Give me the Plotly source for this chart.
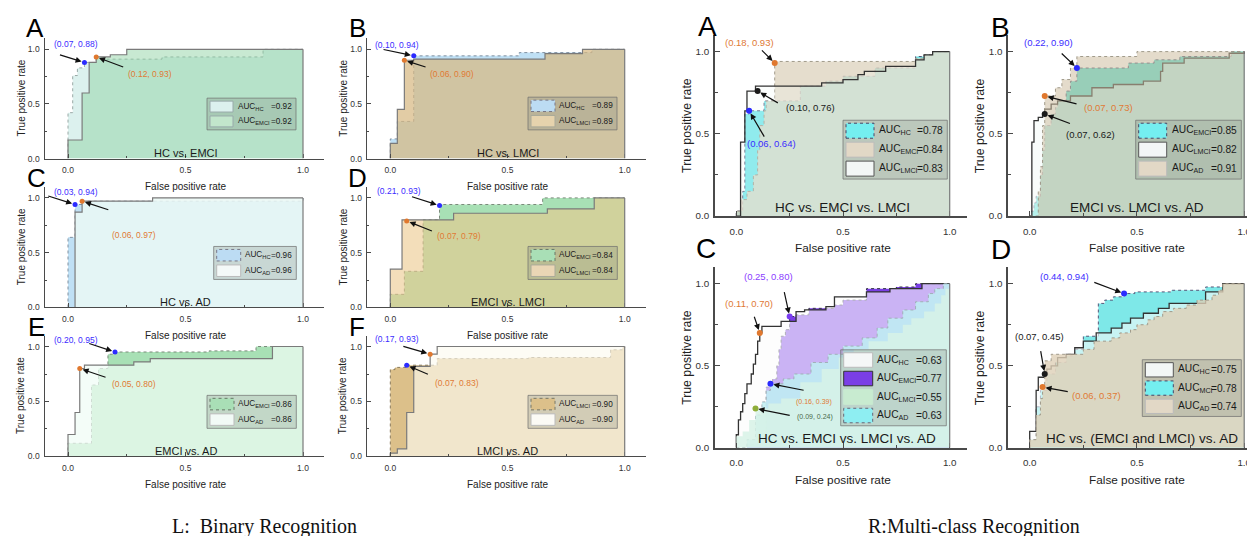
import plotly.graph_objects as go

W, H = 1255, 536
FONT = "Liberation Sans, Arial, sans-serif"

# ======================= DATA =======================
# ---- Left: binary recognition ----
LA_CLASSES = ["HC", "EMCI"]
LA_AUC = [0.92, 0.92]
LA_HC_FPR = [0, 0, 0.02, 0.04, 0.07, 0.12, 0.40, 0.83, 1.0]
LA_HC_TPR = [0, 0.42, 0.76, 0.83, 0.88, 0.91, 0.93, 1.0, 1.0]
LA_EMCI_FPR = [0, 0, 0.06, 0.09, 0.12, 0.18, 0.25, 1.0]
LA_EMCI_TPR = [0, 0.17, 0.60, 0.88, 0.93, 0.95, 1.0, 1.0]
LA_PTS_X = [0.07, 0.12]
LA_PTS_Y = [0.88, 0.93]

LB_CLASSES = ["HC", "LMCI"]
LB_AUC = [0.89, 0.89]
LB_HC_FPR = [0, 0, 0.03, 0.10, 0.55, 0.86, 1.0]
LB_HC_TPR = [0, 0.18, 0.34, 0.94, 0.97, 1.0, 1.0]
LB_LMCI_FPR = [0, 0, 0.03, 0.06, 0.10, 0.66, 0.82, 1.0]
LB_LMCI_TPR = [0, 0.14, 0.45, 0.90, 0.91, 0.96, 1.0, 1.0]
LB_PTS_X = [0.10, 0.06]
LB_PTS_Y = [0.94, 0.90]

LC_CLASSES = ["HC", "AD"]
LC_AUC = [0.96, 0.96]
LC_HC_FPR = [0, 0, 0.03, 0.06, 1.0]
LC_HC_TPR = [0, 0.64, 0.94, 0.97, 1.0]
LC_AD_FPR = [0, 0.03, 0.06, 0.36, 1.0]
LC_AD_TPR = [0, 0.87, 0.97, 1.0, 1.0]
LC_PTS_X = [0.03, 0.06]
LC_PTS_Y = [0.94, 0.97]

LD_CLASSES = ["EMCI", "LMCI"]
LD_AUC = [0.84, 0.84]
LD_EMCI_FPR = [0, 0, 0.06, 0.14, 0.21, 0.65, 1.0]
LD_EMCI_TPR = [0, 0.12, 0.33, 0.80, 0.94, 1.0, 1.0]
LD_LMCI_FPR = [0, 0, 0.05, 0.27, 0.67, 0.87, 1.0]
LD_LMCI_TPR = [0, 0.35, 0.80, 0.86, 0.90, 1.0, 1.0]
LD_PTS_X = [0.21, 0.07]
LD_PTS_Y = [0.93, 0.79]

LE_CLASSES = ["EMCI", "AD"]
LE_AUC = [0.86, 0.86]
LE_EMCI_FPR = [0, 0, 0.10, 0.13, 0.17, 0.20, 0.60, 0.80, 1.0]
LE_EMCI_TPR = [0, 0.12, 0.65, 0.80, 0.93, 0.95, 0.96, 1.0, 1.0]
LE_AD_FPR = [0, 0, 0.03, 0.05, 0.07, 0.28, 0.35, 0.87, 1.0]
LE_AD_TPR = [0, 0.20, 0.40, 0.80, 0.83, 0.86, 0.89, 1.0, 1.0]
LE_PTS_X = [0.20, 0.05]
LE_PTS_Y = [0.95, 0.80]

LF_CLASSES = ["LMCI", "AD"]
LF_AUC = [0.90, 0.90]
LF_LMCI_FPR = [0, 0, 0.02, 0.07, 0.20, 0.59, 0.94, 0.99, 1.0]
LF_LMCI_TPR = [0, 0.79, 0.81, 0.83, 0.89, 0.90, 0.97, 0.99, 1.0]
LF_AD_FPR = [0, 0, 0.03, 0.07, 0.10, 0.17, 0.20, 1.0]
LF_AD_TPR = [0, 0.03, 0.07, 0.40, 0.82, 0.93, 1.0, 1.0]
LF_PTS_X = [0.17, 0.07]
LF_PTS_Y = [0.93, 0.83]

# ---- Right: multi-class recognition ----
RA_CLASSES = ["HC", "EMCI", "LMCI"]
RA_AUC = [0.78, 0.84, 0.83]
RA_HC_FPR = [0, 0, 0.03, 0.04, 0.06, 0.13, 0.30, 0.42, 0.50, 0.65, 0.84, 0.88, 0.92, 1.0]
RA_HC_TPR = [0, 0.03, 0.15, 0.62, 0.64, 0.70, 0.79, 0.82, 0.85, 0.90, 0.97, 0.98, 1.0, 1.0]
RA_EMCI_FPR = [0, 0, 0.02, 0.05, 0.08, 0.10, 0.11, 0.13, 0.14, 0.18, 0.84, 0.88, 0.92, 1.0]
RA_EMCI_TPR = [0, 0.03, 0.10, 0.15, 0.25, 0.40, 0.55, 0.64, 0.70, 0.94, 0.96, 0.98, 1.0, 1.0]
RA_LMCI_FPR = [0, 0.02, 0.02, 0.04, 0.05, 0.09, 0.40, 0.50, 0.57, 0.60, 0.70, 0.84, 0.88, 0.92, 1.0]
RA_LMCI_TPR = [0, 0.15, 0.45, 0.64, 0.76, 0.79, 0.81, 0.83, 0.86, 0.88, 0.91, 0.95, 0.98, 1.0, 1.0]
RA_PTS_X = [0.18, 0.10, 0.06]
RA_PTS_Y = [0.93, 0.76, 0.64]

RB_CLASSES = ["EMCI", "LMCI", "AD"]
RB_AUC = [0.85, 0.82, 0.91]
RB_EMCI_FPR = [0, 0.01, 0.02, 0.03, 0.05, 0.06, 0.07, 0.10, 0.12, 0.13, 0.17, 0.19, 0.22, 0.46, 0.58, 0.70, 0.94, 1.0]
RB_EMCI_TPR = [0, 0.03, 0.08, 0.12, 0.25, 0.40, 0.55, 0.62, 0.66, 0.70, 0.76, 0.82, 0.90, 0.93, 0.95, 0.97, 1.0, 1.0]
RB_LMCI_FPR = [0, 0.01, 0.02, 0.04, 0.06, 0.07, 0.10, 0.13, 0.19, 0.29, 0.39, 0.53, 0.61, 0.62, 0.72, 0.93, 1.0]
RB_LMCI_TPR = [0, 0.45, 0.58, 0.60, 0.62, 0.65, 0.68, 0.70, 0.73, 0.78, 0.80, 0.82, 0.88, 0.93, 0.96, 0.99, 1.0]
RB_AD_FPR = [0, 0.04, 0.05, 0.06, 0.07, 0.12, 0.15, 0.19, 0.22, 0.50, 1.0]
RB_AD_TPR = [0, 0.15, 0.30, 0.55, 0.73, 0.78, 0.83, 0.90, 0.97, 1.0, 1.0]
RB_PTS_X = [0.22, 0.07, 0.07]
RB_PTS_Y = [0.90, 0.73, 0.62]

RC_CLASSES = ["HC", "EMCI", "LMCI", "AD"]
RC_AUC = [0.63, 0.77, 0.55, 0.63]
RC_HC_FPR = [0, 0, 0.01, 0.02, 0.03, 0.04, 0.05, 0.07, 0.08, 0.09, 0.10, 0.11, 0.12, 0.21, 0.28, 0.32, 0.42, 0.46, 0.61, 0.72, 0.87, 1.0]
RC_HC_TPR = [0, 0.08, 0.17, 0.22, 0.27, 0.33, 0.39, 0.45, 0.51, 0.57, 0.65, 0.70, 0.74, 0.77, 0.83, 0.84, 0.86, 0.92, 0.95, 0.97, 1.0, 1.0]
RC_EMCI_FPR = [0, 0.05, 0.10, 0.14, 0.14, 0.17, 0.19, 0.20, 0.21, 0.23, 0.25, 0.28, 0.34, 0.46, 0.50, 0.61, 0.75, 0.84, 1.0]
RC_EMCI_TPR = [0, 0.02, 0.08, 0.18, 0.37, 0.42, 0.50, 0.60, 0.68, 0.72, 0.80, 0.81, 0.85, 0.87, 0.90, 0.97, 0.98, 1.0, 1.0]
RC_LMCI_FPR = [0, 0, 0.03, 0.06, 0.09, 0.15, 0.21, 0.30, 0.40, 0.48, 0.55, 0.62, 0.71, 0.78, 0.82, 0.88, 0.93, 0.96, 0.98, 1.0]
RC_LMCI_TPR = [0, 0.07, 0.10, 0.17, 0.24, 0.27, 0.30, 0.40, 0.48, 0.55, 0.60, 0.65, 0.70, 0.75, 0.79, 0.83, 0.88, 0.93, 0.97, 1.0]
RC_AD_FPR = [0, 0.05, 0.09, 0.12, 0.14, 0.16, 0.22, 0.27, 0.35, 0.43, 0.50, 0.59, 0.66, 0.71, 0.78, 0.84, 0.90, 0.93, 0.97, 1.0]
RC_AD_TPR = [0, 0.05, 0.20, 0.28, 0.35, 0.39, 0.42, 0.45, 0.52, 0.57, 0.62, 0.67, 0.73, 0.79, 0.84, 0.89, 0.94, 0.97, 1.0, 1.0]
RC_PTS_X = [0.11, 0.25, 0.16, 0.09]
RC_PTS_Y = [0.70, 0.80, 0.39, 0.24]

RD_CLASSES = ["HC", "MCI", "AD"]
RD_AUC = [0.75, 0.78, 0.74]
RD_HC_FPR = [0, 0, 0.03, 0.04, 0.07, 0.08, 0.10, 0.13, 0.17, 0.21, 0.25, 0.31, 0.38, 0.43, 0.47, 0.53, 0.60, 0.65, 0.82, 0.90, 1.0]
RD_HC_TPR = [0, 0.10, 0.35, 0.43, 0.45, 0.48, 0.50, 0.55, 0.57, 0.61, 0.65, 0.70, 0.73, 0.76, 0.79, 0.82, 0.85, 0.88, 0.95, 1.0, 1.0]
RD_MCI_FPR = [0, 0, 0.03, 0.05, 0.08, 0.12, 0.17, 0.21, 0.25, 0.32, 0.35, 0.39, 0.44, 0.49, 0.66, 0.82, 0.90, 1.0]
RD_MCI_TPR = [0, 0.05, 0.25, 0.35, 0.45, 0.52, 0.56, 0.60, 0.68, 0.88, 0.90, 0.92, 0.94, 0.95, 0.96, 0.98, 1.0, 1.0]
RD_AD_FPR = [0, 0, 0.03, 0.05, 0.06, 0.07, 0.10, 0.25, 0.30, 0.38, 0.42, 0.47, 0.50, 0.55, 0.58, 0.62, 0.67, 0.73, 0.78, 0.85, 0.88, 0.90, 1.0]
RD_AD_TPR = [0, 0.05, 0.20, 0.30, 0.37, 0.53, 0.57, 0.60, 0.65, 0.67, 0.70, 0.72, 0.75, 0.78, 0.80, 0.83, 0.85, 0.87, 0.90, 0.93, 0.96, 1.0, 1.0]
RD_PTS_X = [0.44, 0.07, 0.06]
RD_PTS_Y = [0.94, 0.45, 0.37]

AXIS_TICKS = [0.0, 0.5, 1.0]
X_TITLE = "False positive rate"
Y_TITLE = "True positive rate"
CAPTIONS = ["L:\u00a0 Binary Recognition", "R:Multi-class Recognition"]

# ======================= STYLE =======================
BLUE_M, BLUE_T = "#2b2bff", "#3b2cff"
ORANGE_M, ORANGE_T = "#e0782e", "#e07a35"
BLACK = "#1a1a1a"
PURPLE_M, PURPLE_T = "#7a3cf0", "#8b3dff"
GREEN_M, GREEN_T = "#8fae3a", "#4a6a4a"

panels = [
    dict(x0=60, sx=235, y0=152, sy=110.3, xmax=1.09, side="L", letter="A", lxy=(27, 20),
         title="HC vs. EMCI",
         curves=[(LA_HC_FPR, LA_HC_TPR, "#dcf1ee", "#9aa9a6", "dot", 1.0),
                 (LA_EMCI_FPR, LA_EMCI_TPR, "rgba(140,210,160,0.48)", "#7a7a7a", "solid", 1.2)],
         classes=LA_CLASSES, auc=LA_AUC,
         leg=dict(box=(199, 91, 288, 123), tx=29, sw=23,
                  sty=[("#dcf1ee", "#9aa", "solid"), ("#c2e6cc", "#9aa", "solid")]),
         px=LA_PTS_X, py=LA_PTS_Y,
         pst=[(BLUE_M, BLUE_T, (-8.5, -18), (-26, -8), 8.5),
              (ORANGE_M, ORANGE_T, (53.5, 16.6), (28.5, 10.6), 8.5)]),
    dict(x0=382.3, sx=234.4, y0=152, sy=110.3, xmax=1.09, side="L", letter="B", lxy=(350, 20),
         title="HC vs. LMCI",
         curves=[(LB_HC_FPR, LB_HC_TPR, "#bfe0f5", "#8090a0", "dot", 1.0),
                 (LB_LMCI_FPR, LB_LMCI_TPR, "rgba(215,185,130,0.72)", "#7a7a7a", "solid", 1.2)],
         classes=LB_CLASSES, auc=LB_AUC,
         leg=dict(box=(520, 90, 609, 123), tx=29, sw=24,
                  sty=[("#bcdcf3", "#778", "dot"), ("#e6d3ad", "#aa9", "solid")]),
         px=LB_PTS_X, py=LB_PTS_Y,
         pst=[(BLUE_M, BLUE_T, (-16.7, -11.3), (-31.7, -6.7), 8.5),
              (ORANGE_M, ORANGE_T, (47.3, 13.3), (22.7, 7.3), 8.5)]),
    dict(x0=60, sx=235, y0=302.3, sy=110.6, xmax=1.09, side="L", letter="C", lxy=(28, 172),
         title="HC vs. AD",
         curves=[(LC_HC_FPR, LC_HC_TPR, "#bfe0f5", "#8090a0", "dot", 1.0),
                 (LC_AD_FPR, LC_AD_TPR, "rgba(234,248,245,0.86)", "#7a7a7a", "solid", 1.2)],
         classes=LC_CLASSES, auc=LC_AUC,
         leg=dict(box=(205.7, 240.7, 288.3, 274), tx=29, sw=24,
                  sty=[("#bcdcf3", "#778", "dot"), ("#f4f9f8", "#bbb", "solid")]),
         px=LC_PTS_X, py=LC_PTS_Y,
         pst=[(BLUE_M, BLUE_T, (0.7, -12.7), (-28.3, -9), 8.5),
              (ORANGE_M, ORANGE_T, (52.3, 34.3), (27.7, 9), 8.5)]),
    dict(x0=382.3, sx=234.4, y0=302.3, sy=110.6, xmax=1.09, side="L", letter="D", lxy=(350, 172),
         title="EMCI vs. LMCI",
         curves=[(LD_EMCI_FPR, LD_EMCI_TPR, "#a8e0b5", "#7a8a7a", "dot", 1.0),
                 (LD_LMCI_FPR, LD_LMCI_TPR, "rgba(235,200,140,0.6)", "#7a7a7a", "solid", 1.2)],
         classes=LD_CLASSES, auc=LD_AUC,
         leg=dict(box=(520, 240.7, 609.3, 274), tx=29, sw=24,
                  sty=[("#a9dfb6", "#676", "dot"), ("#ead6b5", "#aa9", "solid")]),
         px=LD_PTS_X, py=LD_PTS_Y,
         pst=[(BLUE_M, BLUE_T, (-40.7, -14.3), (-29, -9.3), 8.5),
              (ORANGE_M, ORANGE_T, (52.7, 14.7), (26.7, 10.7), 8.5)]),
    dict(x0=60, sx=235, y0=452.7, sy=111, xmax=1.09, side="L", letter="E", lxy=(28, 322),
         title="EMCI vs. AD",
         curves=[(LE_EMCI_FPR, LE_EMCI_TPR, "#a8e0b5", "#7a8a7a", "dot", 1.0),
                 (LE_AD_FPR, LE_AD_TPR, "rgba(240,252,245,0.72)", "#7a7a7a", "solid", 1.2)],
         classes=LE_CLASSES, auc=LE_AUC,
         leg=dict(box=(199, 391, 288.3, 424.3), tx=29, sw=24,
                  sty=[("#a9dfb6", "#676", "dot"), ("#f2faf6", "#bbb", "solid")]),
         px=LE_PTS_X, py=LE_PTS_Y,
         pst=[(BLUE_M, BLUE_T, (-39, -12.3), (-27.3, -9), 8.5),
              (ORANGE_M, ORANGE_T, (54.7, 15.7), (27.3, 9.3), 8.5)]),
    dict(x0=382.3, sx=234.4, y0=452.7, sy=111, xmax=1.09, side="L", letter="F", lxy=(349, 322),
         title="LMCI vs. AD",
         curves=[(LF_LMCI_FPR, LF_LMCI_TPR, "#dcc08a", "#8a7a5a", "dot", 1.0),
                 (LF_AD_FPR, LF_AD_TPR, "rgba(252,250,240,0.65)", "#7a7a7a", "solid", 1.2)],
         classes=LF_CLASSES, auc=LF_AUC,
         leg=dict(box=(520, 391, 609.3, 424.3), tx=29, sw=24,
                  sty=[("#dcc08a", "#776", "dot"), ("#fbfaf5", "#bbb", "solid")]),
         px=LF_PTS_X, py=LF_PTS_Y,
         pst=[(ORANGE_M, BLUE_T, (-33.3, -15), (-28.3, -8.3), 8.5),
              (BLUE_M, ORANGE_T, (50.3, 17.3), (22.7, 9.7), 8.5)]),
    dict(x0=728.3, sx=213.4, y0=210, sy=166, xmax=1.08, side="R", letter="A", lxy=(700, 19),
         title="HC vs. EMCI vs. LMCI",
         curves=[(RA_HC_FPR, RA_HC_TPR, "#6fe6ea", "#557", "dot", 1.0),
                 (RA_EMCI_FPR, RA_EMCI_TPR, "rgba(222,212,192,0.8)", "#a09a8a", "dot", 1.0),
                 (RA_LMCI_FPR, RA_LMCI_TPR, "rgba(245,250,248,0.25)", "#333333", "solid", 1.3)],
         classes=RA_CLASSES, auc=RA_AUC,
         leg=dict(box=(835, 113.3, 939.3, 172.7), tx=34, sw=28,
                  sty=[("#74eef0", "#446", "dot"), ("#e2d8c6", "#bbb", "solid"), ("#f3f7f6", "#555", "solid")]),
         px=RA_PTS_X, py=RA_PTS_Y,
         pst=[(ORANGE_M, ORANGE_T, (-25.3, -20.3), (-14.3, -14.3), 9.5),
              (BLACK, BLACK, (53.3, 16), (21.7, 12.7), 9.5),
              (BLUE_M, BLUE_T, (22.7, 32.3), (16, 27.3), 9.5)]),
    dict(x0=1021.7, sx=214.5, y0=210, sy=166, xmax=1.08, side="R", letter="B", lxy=(992, 20),
         title="EMCI vs. LMCI vs. AD",
         curves=[(RB_EMCI_FPR, RB_EMCI_TPR, "#58e2d6", "#557", "dot", 1.0),
                 (RB_LMCI_FPR, RB_LMCI_TPR, "rgba(245,250,248,0.6)", "#333333", "solid", 1.3),
                 (RB_AD_FPR, RB_AD_TPR, "rgba(205,190,160,0.55)", "#a09a8a", "dot", 1.0)],
         classes=RB_CLASSES, auc=RB_AUC,
         leg=dict(box=(1127.7, 113.3, 1233.3, 172.7), tx=34, sw=28,
                  sty=[("#74eef0", "#446", "dot"), ("#f3f7f6", "#555", "solid"), ("#e2d8c6", "#bbb", "solid")]),
         px=RB_PTS_X, py=RB_PTS_Y,
         pst=[(BLUE_M, BLUE_T, (-28.3, -25.3), (-16.7, -16), 9.5),
              (ORANGE_M, ORANGE_T, (63.3, 11.7), (33.3, 8.3), 9.5),
              (BLACK, BLACK, (45.7, 20), (26.7, 10), 9.5)]),
    dict(x0=728.3, sx=213.4, y0=444, sy=165.7, xmax=1.08, side="R", letter="C", lxy=(698, 243),
         title="HC vs. EMCI vs. LMCI vs. AD",
         curves=[(RC_EMCI_FPR, RC_EMCI_TPR, "#7a3ee6", "#334", "dot", 1.0),
                 (RC_HC_FPR, RC_HC_TPR, "rgba(252,252,252,0.62)", "#333333", "solid", 1.3),
                 (RC_AD_FPR, RC_AD_TPR, "rgba(190,238,242,0.85)", "#a0b0b8", "dot", 1.0),
                 (RC_LMCI_FPR, RC_LMCI_TPR, "rgba(215,242,230,0.85)", "rgba(0,0,0,0)", "solid", 0.5)],
         classes=RC_CLASSES, auc=RC_AUC,
         leg=dict(box=(832.7, 345, 938.3, 421.7), tx=34, sw=29,
                  sty=[("#f5f7f7", "#bbb", "solid"), ("#7a3ee6", "#333", "solid"),
                       ("#c8ebd0", "#c8ebd0", "solid"), ("#8eeef2", "#667", "dot")]),
         px=RC_PTS_X, py=RC_PTS_Y,
         pst=[(ORANGE_M, ORANGE_T, (-10.3, -29.3), (-6, -17.7), 9.5),
              (PURPLE_M, PURPLE_T, (-20.7, -40), (-5.7, -26), 9.5),
              (BLUE_M, ORANGE_T, (44, 17.7), (34.7, 6.7), 7),
              (GREEN_M, GREEN_T, (59, 9), (35.7, 7.3), 7)]),
    dict(x0=1021.7, sx=214.5, y0=444, sy=165.7, xmax=1.08, side="R", letter="D", lxy=(993, 244),
         title="HC vs. (EMCI and LMCI) vs. AD",
         curves=[(RD_MCI_FPR, RD_MCI_TPR, "#7ee8e8", "#557", "dot", 1.0),
                 (RD_HC_FPR, RD_HC_TPR, "rgba(248,250,250,0.6)", "#333333", "solid", 1.3),
                 (RD_AD_FPR, RD_AD_TPR, "rgba(222,208,182,0.8)", "#a09a8a", "dot", 1.0)],
         classes=RD_CLASSES, auc=RD_AUC,
         leg=dict(box=(1134.3, 355, 1233.3, 412.3), tx=33.4, sw=28,
                  sty=[("#f3f7f6", "#555", "solid"), ("#74eef0", "#446", "dot"), ("#e2d8c6", "#bbb", "solid")]),
         px=RD_PTS_X, py=RD_PTS_Y,
         pst=[(BLUE_M, BLUE_T, (-59.7, -16.7), (-31.3, -11.7), 9.5),
              (BLACK, BLACK, (-5.7, -37), (-4.3, -24.3), 9.5),
              (ORANGE_M, ORANGE_T, (54, 8.7), (26.7, 4.7), 9.5)]),
]

title_pos = {  # in-plot title centre (data x)
    "HC vs. EMCI vs. LMCI vs. AD": 0.52, "HC vs. (EMCI and LMCI) vs. AD": 0.524,
}


def pxp(x, y):
    return x / W, 1 - y / H


fig = go.Figure()
shapes, annots = [], []
layout_axes = {}

for i, p in enumerate(panels, start=1):
    L = p["side"] == "L"
    xa, ya = f"x{i}", f"y{i}"
    xn, yn = ("xaxis" if i == 1 else f"xaxis{i}"), ("yaxis" if i == 1 else f"yaxis{i}")
    xmin, ymax = -0.1, 1.1
    xd = [(p["x0"] + p["sx"] * xmin) / W, (p["x0"] + p["sx"] * p["xmax"]) / W]
    yd = [1 - p["y0"] / H, 1 - (p["y0"] - p["sy"] * ymax) / H]
    tick_size = 8.5 if L else 9.8
    common = dict(showgrid=False, zeroline=False, showline=True, linecolor="#4a4a4a",
                  linewidth=1.3 if L else 1.6, ticks="inside", ticklen=4 if L else 5,
                  tickcolor="#4a4a4a", tickvals=AXIS_TICKS,
                  ticktext=[f"{v:.1f}" for v in AXIS_TICKS],
                  tickfont=dict(family=FONT, size=tick_size, color="#333"),
                  minor=dict(tickvals=[0.25, 0.75], ticks="inside", ticklen=2 if L else 3,
                             tickcolor="#4a4a4a"),
                  fixedrange=True)
    layout_axes[xn] = dict(common, domain=xd, range=[xmin, p["xmax"]], anchor=ya,
                           ticklabelstandoff=3 if L else 5)
    layout_axes[yn] = dict(common, domain=yd, range=[0, ymax], anchor=xa,
                           ticklabelstandoff=2)

    # curves
    xe, ye = 0, 0
    for fpr, tpr, fc, lc, dash, lw in p["curves"]:
        fig.add_trace(go.Scatter(x=fpr, y=tpr, mode="lines", xaxis=xa, yaxis=ya,
                                 line=dict(shape="hv", color=lc, width=lw, dash=dash),
                                 fill="tozeroy", fillcolor=fc, showlegend=False,
                                 hoverinfo="skip"))
        xe, ye = max(xe, max(fpr)), max(ye, max(tpr))
    shapes.append(dict(type="line", xref=xa, yref=ya, x0=xe, x1=xe, y0=0, y1=ye,
                       line=dict(color="#7a7a7a", width=1.2)))

    # marked points + labels + arrows
    for (x, y), (mc, tc, tofs, aofs, fs) in zip(zip(p["px"], p["py"]), p["pst"]):
        fig.add_trace(go.Scatter(x=[x], y=[y], mode="markers", xaxis=xa, yaxis=ya,
                                 marker=dict(size=5 if L else 6, color=mc),
                                 showlegend=False, hoverinfo="skip"))
        annots.append(dict(x=x, y=y, xref=xa, yref=ya, text="", showarrow=True,
                           ax=aofs[0], ay=aofs[1], arrowhead=2, arrowsize=1,
                           arrowwidth=1.2, arrowcolor="#111", standoff=3))
        annots.append(dict(x=x, y=y, xref=xa, yref=ya, text=f"({x:.2f}, {y:.2f})",
                           showarrow=False, xshift=tofs[0], yshift=-tofs[1],
                           font=dict(family=FONT, size=fs, color=tc)))

    # in-plot title
    annots.append(dict(x=title_pos.get(p["title"], 0.5), y=0.054, xref=xa, yref=ya,
                       text=p["title"], showarrow=False, yanchor="middle",
                       font=dict(family=FONT, size=11 if L else 13.5, color="#1a1a1a")))

    # panel letter
    lx, ly = pxp(*p["lxy"])
    annots.append(dict(x=lx, y=ly, xref="paper", yref="paper", text=p["letter"],
                       showarrow=False, xanchor="center", yanchor="middle",
                       font=dict(family=FONT, size=26 if L else 28, color="#000")))

    # axis titles
    yt_x = p["x0"] - (47 if L else 50)
    yc = p["y0"] - p["sy"] * ymax / 2
    tx, ty = pxp(yt_x, yc)
    annots.append(dict(x=tx, y=ty, xref="paper", yref="paper", text=Y_TITLE, textangle=-90,
                       showarrow=False, xanchor="center", yanchor="middle",
                       font=dict(family=FONT, size=10 if L else 12.3, color="#222")))
    tx, ty = pxp(p["x0"] + p["sx"] * 0.5, p["y0"] + (28 if L else 32))
    annots.append(dict(x=tx, y=ty, xref="paper", yref="paper", text=X_TITLE,
                       showarrow=False, xanchor="center", yanchor="middle",
                       font=dict(family=FONT, size=10 if L else 11.8, color="#222")))

    # legend box
    lg = p["leg"]
    bx0, by0, bx1, by1 = lg["box"]
    a0, b0 = pxp(bx0, by0)
    a1, b1 = pxp(bx1, by1)
    shapes.append(dict(type="rect", xref="paper", yref="paper", x0=a0, x1=a1, y0=b1, y1=b0,
                       fillcolor="rgba(130,135,125,0.28)", line=dict(color="rgba(110,110,110,0.7)", width=1),
                       layer="above"))
    n = len(p["classes"])
    rh = (by1 - by0 - 2) / n
    lfs = 8.2 if L else 10.2
    for k, (cls, auc, (sf, sl, sd)) in enumerate(zip(p["classes"], p["auc"], lg["sty"])):
        yc_r = by0 + 1 + (k + 0.5) * rh
        s0 = pxp(bx0 + 3, yc_r - rh / 2 + 2)
        s1 = pxp(bx0 + 3 + lg["sw"], yc_r + rh / 2 - 2)
        shapes.append(dict(type="rect", xref="paper", yref="paper", x0=s0[0], x1=s1[0],
                           y0=s1[1], y1=s0[1], fillcolor=sf,
                           line=dict(color=sl, width=1, dash=sd), layer="above"))
        t0 = pxp(bx0 + lg["tx"], yc_r)
        annots.append(dict(x=t0[0], y=t0[1], xref="paper", yref="paper",
                           text=f"AUC<sub>{cls}</sub>", showarrow=False, xanchor="left",
                           yanchor="middle", font=dict(family=FONT, size=lfs, color="#1a1a1a")))
        t1 = pxp(bx1 - 2.5, yc_r)
        annots.append(dict(x=t1[0], y=t1[1], xref="paper", yref="paper",
                           text=f"={auc:.2f}", showarrow=False, xanchor="right",
                           yanchor="middle", font=dict(family=FONT, size=lfs, color="#1a1a1a")))

# captions
for txt, cx in zip(CAPTIONS, [256, 966]):
    a, b = pxp(cx, 523)
    annots.append(dict(x=a, y=b, xref="paper", yref="paper", text=txt, showarrow=False,
                       xanchor="center", yanchor="middle",
                       font=dict(family="Liberation Serif, Times New Roman, serif", size=20,
                                 color="#111")))

fig.update_layout(width=W, height=H, margin=dict(l=0, r=0, t=0, b=0),
                  paper_bgcolor="white", plot_bgcolor="white",
                  shapes=shapes, annotations=annots, showlegend=False, **layout_axes)

fig.write_html("out.html")
